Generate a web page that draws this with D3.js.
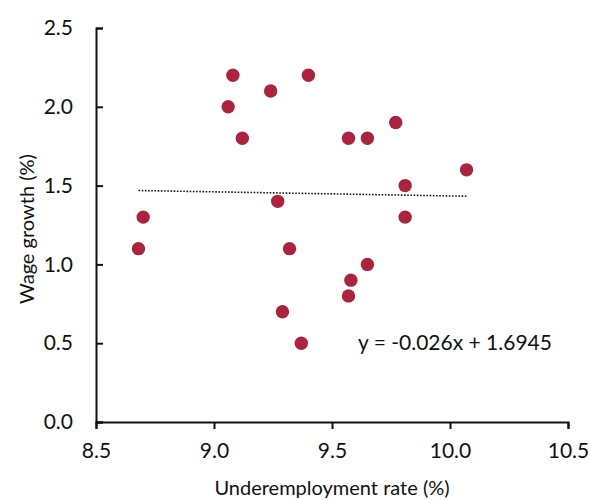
<!DOCTYPE html>
<html>
<head>
<meta charset="utf-8">
<script src="https://cdn.jsdelivr.net/npm/d3@7"></script>
<style>
  body { margin: 0; background: #fff; }
  svg text { font-family: Lato, "Open Sans", sans-serif; fill: #111; }
</style>
</head>
<body>
<svg></svg>
<script>
// Underemployment rate (%) and wage growth (%) pairs
const underemployment = [8.68, 8.70, 9.08, 9.06, 9.12, 9.24, 9.40, 9.27, 9.32, 9.29,
  9.37, 9.57, 9.65, 9.77, 10.07, 9.81, 9.81, 9.65, 9.58, 9.57];
const wageGrowth = [1.1, 1.3, 2.2, 2.0, 1.8, 2.1, 2.2, 1.4, 1.1, 0.7,
  0.5, 1.8, 1.8, 1.9, 1.6, 1.5, 1.3, 1.0, 0.9, 0.8];
const xTicks = [8.5, 9.0, 9.5, 10.0, 10.5];
const yTicks = [0.0, 0.5, 1.0, 1.5, 2.0, 2.5];
// Linear trendline from the label
const slope = -0.026;
const intercept = 1.6945;

const width = 590;
const height = 500;
const margin = { top: 28, right: 22, bottom: 78, left: 96 };

const svg = d3.select("svg").attr("width", width).attr("height", height);

const x = d3.scaleLinear().domain([8.5, 10.5]).range([margin.left, width - margin.right]);
const y = d3.scaleLinear().domain([0, 2.5]).range([height - margin.bottom, margin.top]);

// x axis, ticks point down
const xAxis = svg.append("g")
  .attr("transform", `translate(0,${height - margin.bottom})`)
  .call(d3.axisBottom(x).tickValues(xTicks).tickFormat(d3.format(".1f")).tickSize(7).tickPadding(14));

// y axis, ticks point into the plot
const yAxis = svg.append("g")
  .attr("transform", `translate(${margin.left},0)`)
  .call(d3.axisLeft(y).tickValues(yTicks).tickFormat(d3.format(".1f")).tickSize(-7).tickPadding(23));

[xAxis, yAxis].forEach(g => {
  g.select(".domain").attr("stroke", "#111").attr("stroke-width", 2);
  g.selectAll(".tick line").attr("stroke", "#111").attr("stroke-width", 2);
  g.selectAll(".tick text").style("font-size", "21px").attr("fill", "#111");
});

// trendline, dotted
const xs = d3.extent(underemployment);
svg.append("line")
  .attr("x1", x(xs[0]))
  .attr("y1", y(slope * xs[0] + intercept))
  .attr("x2", x(xs[1]))
  .attr("y2", y(slope * xs[1] + intercept))
  .attr("stroke", "#111")
  .attr("stroke-width", 1.6)
  .attr("stroke-dasharray", "1.6,1.6");

// points
svg.append("g")
  .selectAll("circle")
  .data(underemployment)
  .join("circle")
  .attr("cx", d => x(d))
  .attr("cy", (d, i) => y(wageGrowth[i]))
  .attr("r", 6.7)
  .attr("fill", "#a8243f");

// equation label
svg.append("text")
  .attr("x", x(9.61))
  .attr("y", y(0.46))
  .style("font-size", "21px")
  .text("y = -0.026x + 1.6945");

// axis titles
svg.append("text")
  .attr("x", (margin.left + width - margin.right) / 2)
  .attr("y", 495)
  .attr("text-anchor", "middle")
  .style("font-size", "20px")
  .text("Underemployment rate (%)");

svg.append("text")
  .attr("transform", `translate(34,229) rotate(-90)`)
  .attr("text-anchor", "middle")
  .style("font-size", "20px")
  .text("Wage growth (%)");
</script>
</body>
</html>
